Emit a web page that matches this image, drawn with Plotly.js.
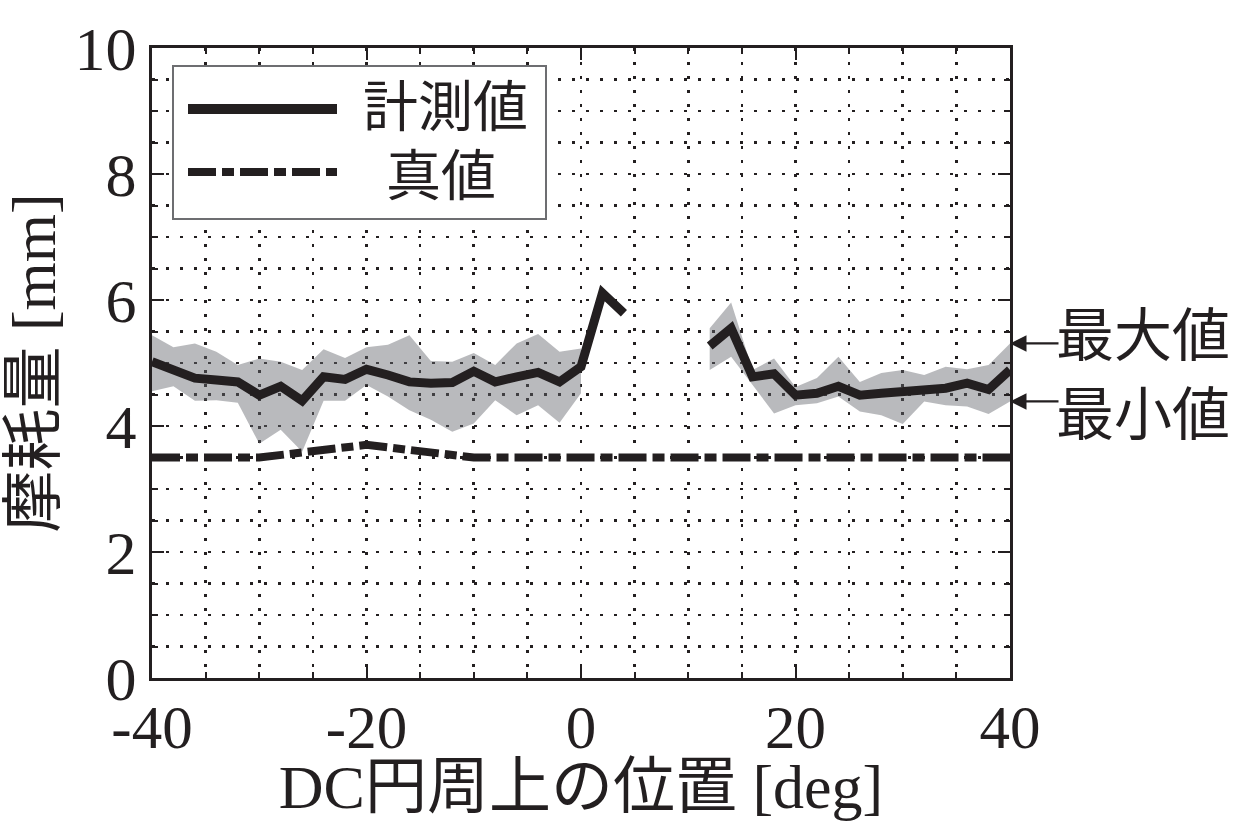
<!DOCTYPE html>
<html>
<head>
<meta charset="utf-8">
<script src="https://cdn.plot.ly/plotly-3.0.1.min.js"></script>
<style>
html,body{margin:0;padding:0;background:#fff;}
#chart{width:1237px;height:821px;}
</style>
</head>
<body>
<div id="chart"></div>
<script>
// ---- data ----
var positions = [-40,-38,-36,-34,-32,-30,-28,-26,-24,-22,-20,-18,-16,-14,-12,-10,-8,-6,-4,-2,0,2,4,6,8,10,12,14,16,18,20,22,24,26,28,30,32,34,36,38,40];
var measured  = [5.02,4.89,4.76,4.73,4.70,4.49,4.63,4.40,4.78,4.74,4.90,4.81,4.70,4.68,4.69,4.87,4.70,4.78,4.85,4.70,4.94,6.11,5.79,null,null,null,5.27,5.55,4.78,4.83,4.49,4.52,4.63,4.49,4.52,4.55,4.57,4.60,4.68,4.58,4.89];
var maxValues = [5.44,5.25,5.31,5.18,4.97,5.07,5.02,4.89,5.22,5.08,5.25,5.29,5.44,5.03,5.02,5.16,4.97,5.31,5.46,5.18,5.23,null,null,null,null,null,5.55,5.96,4.89,5.07,4.62,4.76,5.10,4.70,4.84,4.89,4.81,4.94,4.90,4.97,5.31];
var minValues = [4.55,4.63,4.40,4.41,4.37,3.72,3.94,3.59,4.40,4.40,4.65,4.47,4.25,4.10,3.91,4.04,4.41,4.17,4.33,4.05,4.52,null,null,null,null,null,4.89,5.10,4.65,4.20,4.33,4.36,4.47,4.23,4.17,4.03,4.39,4.33,4.31,4.19,4.39];
var truePositions = [-40,-30,-20,-10,0,10,20,30,40];
var trueValues    = [3.5,3.5,3.7,3.5,3.5,3.5,3.5,3.5,3.5];
var xTickValues = [-40,-20,0,20,40];
var xTickLabels = ['-40','-20','0','20','40'];
var yTickValues = [0,2,4,6,8,10];
var yTickLabels = ['0','2','4','6','8','10'];
var seriesNames = ['計測値','真値'];
var bandLabels = ['最大値','最小値'];
var xTitle = 'DC円周上の位置 [deg]';
var yTitle = '摩耗量 [mm]';

// ---- build band polygons (contiguous runs) ----
var traces = [];
var run = [];
function flush(){
  if(run.length>1){
    var xs=[],ys=[];
    run.forEach(function(i){xs.push(positions[i]);ys.push(maxValues[i]);});
    for(var k=run.length-1;k>=0;k--){xs.push(positions[run[k]]);ys.push(minValues[run[k]]);}
    traces.push({x:xs,y:ys,type:'scatter',mode:'lines',fill:'toself',
      fillcolor:'rgba(100,102,108,0.45)',line:{width:0,color:'rgba(0,0,0,0)'},
      hoverinfo:'skip',showlegend:false});
  }
  run=[];
}
for(var i=0;i<positions.length;i++){
  if(maxValues[i]!==null && minValues[i]!==null){run.push(i);} else {flush();}
}
flush();

traces.push({x:truePositions,y:trueValues,type:'scatter',mode:'lines',name:seriesNames[1],
  line:{color:'#231f20',width:8,dash:'28px,6px,12px,6px'},showlegend:false});
traces.push({x:positions,y:measured,type:'scatter',mode:'lines',name:seriesNames[0],
  connectgaps:false,line:{color:'#231f20',width:9},showlegend:false});

var serif = 'Liberation Serif, Noto Sans CJK JP, serif';
var cjk = 'Noto Sans CJK JP, sans-serif';
var gridDash = '3px,11px';
var ink = '#231f20';

function px2x(p){return (p-152)/858;}
function py2y(p){return (678-p)/630;}

var lastIdx = positions.length-1;

var layout = {
  width:1237,height:821,
  margin:{l:152,r:227,t:48,b:143},
  paper_bgcolor:'#fff',plot_bgcolor:'#fff',
  showlegend:false,
  xaxis:{
    range:[-40,40],tickmode:'array',tickvals:xTickValues,ticktext:xTickLabels,
    showline:true,linecolor:ink,linewidth:3,mirror:'ticks',
    ticks:'inside',ticklen:12,tickwidth:2,tickcolor:ink,
    showgrid:true,gridcolor:ink,gridwidth:2.6,griddash:gridDash,
    zeroline:false,ticklabelstandoff:-6,
    minor:{dtick:5,tick0:0,ticks:'inside',ticklen:6,tickwidth:2,tickcolor:ink,showgrid:true,gridcolor:ink,gridwidth:2.6,griddash:gridDash},
    tickfont:{family:serif,size:61,color:ink},
    title:{text:xTitle,font:{family:serif,size:62,color:ink},standoff:24},
    automargin:false
  },
  yaxis:{
    range:[0,10],tickmode:'array',tickvals:yTickValues,ticktext:yTickLabels,
    showline:true,linecolor:ink,linewidth:3,mirror:'ticks',
    ticks:'inside',ticklen:12,tickwidth:2,tickcolor:ink,
    showgrid:true,gridcolor:ink,gridwidth:2.6,griddash:gridDash,
    zeroline:false,
    minor:{dtick:0.5,tick0:0,ticks:'inside',ticklen:6,tickwidth:2,tickcolor:ink,showgrid:true,gridcolor:ink,gridwidth:2.6,griddash:gridDash},
    tickfont:{family:serif,size:62,color:ink},
    title:{text:yTitle,font:{family:serif,size:62,color:ink},standoff:2},
    automargin:false
  },
  shapes:[
    {type:'rect',xref:'paper',yref:'paper',x0:px2x(173),x1:px2x(546),y0:py2y(219),y1:py2y(66),
      line:{color:'#6d6e71',width:2},fillcolor:'#fff',layer:'above'},
    {type:'line',xref:'paper',yref:'paper',x0:px2x(188),x1:px2x(337),y0:py2y(109),y1:py2y(109),
      line:{color:ink,width:10},layer:'above'},
    {type:'line',xref:'paper',yref:'paper',x0:px2x(188),x1:px2x(337),y0:py2y(172),y1:py2y(172),
      line:{color:ink,width:8,dash:'28px,6px,12px,6px'},layer:'above'}
  ],
  annotations:[
    {xref:'paper',yref:'paper',x:px2x(445),y:py2y(102),text:seriesNames[0],showarrow:false,
      font:{family:cjk,size:55,color:ink},xanchor:'center',yanchor:'middle'},
    {xref:'paper',yref:'paper',x:px2x(441),y:py2y(171),text:seriesNames[1],showarrow:false,
      font:{family:cjk,size:55,color:ink},xanchor:'center',yanchor:'middle'},
    {xref:'x',yref:'y',x:positions[lastIdx],y:maxValues[lastIdx],ax:50,ay:0,text:'',showarrow:true,
      arrowhead:2,arrowsize:1.5,arrowwidth:2.2,arrowcolor:ink,standoff:0},
    {xref:'x',yref:'y',x:positions[lastIdx],y:minValues[lastIdx],ax:50,ay:0,text:'',showarrow:true,
      arrowhead:2,arrowsize:1.5,arrowwidth:2.2,arrowcolor:ink,standoff:0},
    {xref:'paper',yref:'paper',x:px2x(1054),y:py2y(331),text:bandLabels[0],showarrow:false,
      font:{family:cjk,size:58,color:ink},xanchor:'left',yanchor:'middle'},
    {xref:'paper',yref:'paper',x:px2x(1054),y:py2y(410),text:bandLabels[1],showarrow:false,
      font:{family:cjk,size:58,color:ink},xanchor:'left',yanchor:'middle'}
  ]
};

Plotly.newPlot('chart',traces,layout,{displayModeBar:false,staticPlot:true});
</script>
</body>
</html>
